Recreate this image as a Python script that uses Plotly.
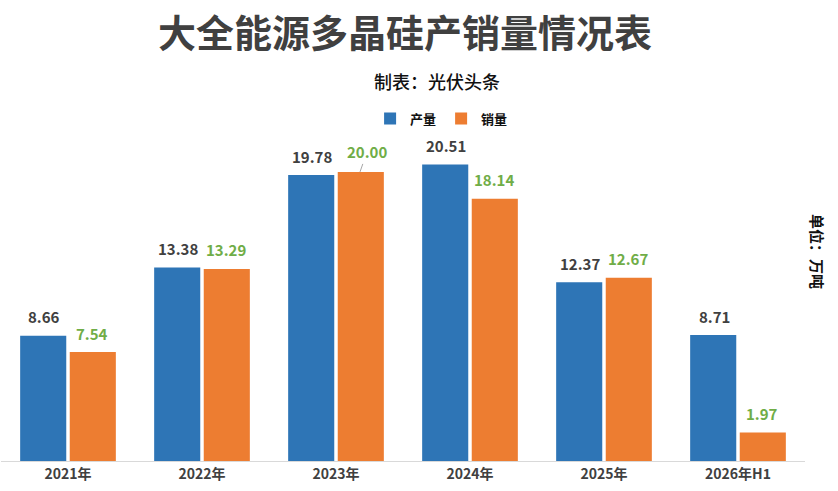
import plotly.graph_objects as go

categories = ['2021年', '2022年', '2023年', '2024年', '2025年', '2026年H1']
production = [8.66, 13.38, 19.78, 20.51, 12.37, 8.71]
sales = [7.54, 13.29, 20.00, 18.14, 12.67, 1.97]

FONT = 'Noto Sans CJK SC, Open Sans, sans-serif'
BLUE = '#2E75B6'
ORANGE = '#ED7D31'
DARK = '#404040'
GREEN = '#70AD47'

fig = go.Figure()
fig.add_trace(go.Bar(x=categories, y=production, name='产量',
                     marker=dict(color=BLUE, line=dict(width=0))))
fig.add_trace(go.Bar(x=categories, y=sales, name='销量',
                     marker=dict(color=ORANGE, line=dict(width=0))))

# value labels above bars
ann = []
for c, v in zip(categories, production):
    ann.append(dict(x=c, y=v, xref='x', yref='y', text='<b>%.2f</b>' % v,
                    showarrow=False, xshift=-24, yshift=19, yanchor='middle',
                    font=dict(family=FONT, size=15, color=DARK)))
for c, v in zip(categories, sales):
    lbl = dict(x=c, y=v, xref='x', yref='y', text='<b>%.2f</b>' % v,
               showarrow=False, xshift=24, yshift=19, yanchor='middle',
               font=dict(family=FONT, size=15, color=GREEN))
    if c == '2023年':
        # this label sits slightly off the bar, with a small leader line
        lbl.update(showarrow=True, yshift=0, ax=7, ay=-20, arrowhead=0,
                   arrowwidth=1, arrowcolor='#A6A6A6', standoff=0)
    ann.append(lbl)

ann += [
    dict(text='<b>大全能源多晶硅产销量情况表</b>', x=0.5025, y=1.353,
         xref='paper', yref='paper', showarrow=False, yanchor='middle',
         font=dict(family=FONT, size=38, color=DARK)),
    dict(text='制表：光伏头条', x=0.542, y=1.196,
         xref='paper', yref='paper', showarrow=False, yanchor='middle',
         font=dict(family=FONT, size=18, color='#111111', weight=500)),
    dict(text='<b>单位：万吨</b>', x=1.032, y=0.66, textangle=90,
         xref='paper', yref='paper', showarrow=False,
         font=dict(family=FONT, size=15, color='#111111')),
]

fig.update_layout(
    width=838, height=491,
    margin=dict(l=1, r=33, t=143, b=30),
    paper_bgcolor='white', plot_bgcolor='white',
    barmode='group', bargap=0.26, bargroupgap=0.07,
    showlegend=True,
    legend=dict(orientation='h', x=0.548, xanchor='center', y=1.077,
                yanchor='middle', font=dict(family=FONT, size=13, color='#111111', weight='bold'),
                itemwidth=30, tracegroupgap=0),
    annotations=ann,
    xaxis=dict(showline=True, linecolor='#D9D9D9', linewidth=1, ticks='',
               tickfont=dict(family=FONT, size=14, color=DARK, weight='bold'),
               showgrid=False),
    yaxis=dict(range=[0, 22], visible=False, showgrid=False, zeroline=False),
)

fig.write_html('out.html', config={'displayModeBar': False},
               post_script="document.body.style.margin='0';")
